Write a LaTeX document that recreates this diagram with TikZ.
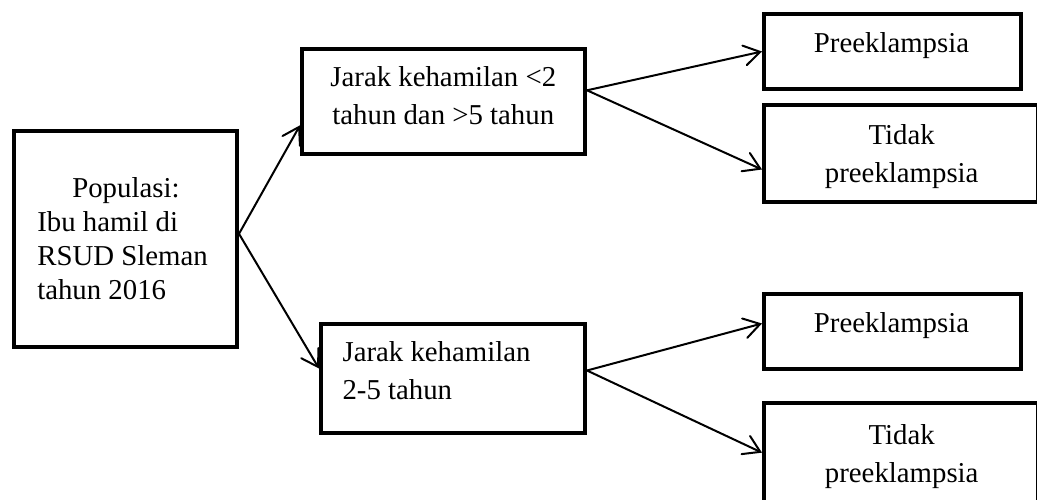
\documentclass[tikz,border=0pt]{standalone}
\usepackage{fontspec}
\setmainfont{Liberation Serif}
\usetikzlibrary{arrows.meta,calc}
\begin{document}
\begin{tikzpicture}[x=0.5pt,y=-0.5pt,
  box/.style={draw=black, line width=2pt, rectangle, inner sep=0pt},
  txt/.style={inner sep=0pt, font=\fontsize{14.4pt}{19pt}\selectfont, align=center},
  link/.style={draw=black, line width=1pt, line cap=round,
    -{Straight Barb[length=8pt,width=10pt,line cap=round]}}]

% page
\fill[white] (0,0) rectangle (1037,499);
\useasboundingbox (0,0) rectangle (1037,499);

% frames
\node[box, minimum width=111.5pt, minimum height=107.85pt] (pop)  at (125.5,238.8) {};
\node[box, minimum width=141.5pt, minimum height=52.65pt]  (far)  at (443.5,101.3) {};
\node[box, minimum width=132pt,   minimum height=54.5pt]   (near) at (453,378.5) {};
\node[box, minimum width=128.5pt, minimum height=37.5pt]   (pe1)  at (892.5,51.5) {};
\node[box, minimum width=136.75pt,minimum height=48.5pt]   (no1)  at (900.75,153.5) {};
\node[box, minimum width=128.5pt, minimum height=37.5pt]   (pe2)  at (892.5,331.5) {};
\node[box, minimum width=136.75pt,minimum height=49.35pt]  (no2)  at (900.75,452.65) {};

% captions
\node[txt, align=left, font=\fontsize{14.4pt}{17pt}\selectfont] (popT) at (122.5,239.1)
  {\hspace*{17.5pt}Populasi:\\Ibu hamil di\\RSUD Sleman\\tahun 2016};
\node[txt] (farT)  at (443.3,96)    {Jarak kehamilan <2\\tahun dan >5 tahun};
\node[txt, align=left] (nearT) at (436.5,371.1) {Jarak kehamilan\\2-5 tahun};
\node[txt] (pe1T)  at (891.5,46)    {Preeklampsia};
\node[txt] (no1T)  at (901.7,156.5) {Tidak\\preeklampsia};
\node[txt] (pe2T)  at (891.5,326)   {Preeklampsia};
\node[txt] (no2T)  at (901.7,456.5) {Tidak\\preeklampsia};

% connectors
\coordinate (split) at ($(pop.east)+(0,-5)$);
\draw[link] (split) -- ($(far.west)+(0,24)$);
\draw[link] (split) -- ($(near.west)+(0,-10)$);
\draw[link] ($(far.east)+(0,-11)$) -- (pe1.west);
\draw[link] ($(far.east)+(0,-11)$) -- ($(no1.west)+(0,16)$);
\draw[link] ($(near.east)+(0,-8)$) -- ($(pe2.west)+(0,-8)$);
\draw[link] ($(near.east)+(0,-8)$) -- (no2.west);
\end{tikzpicture}
\end{document}
